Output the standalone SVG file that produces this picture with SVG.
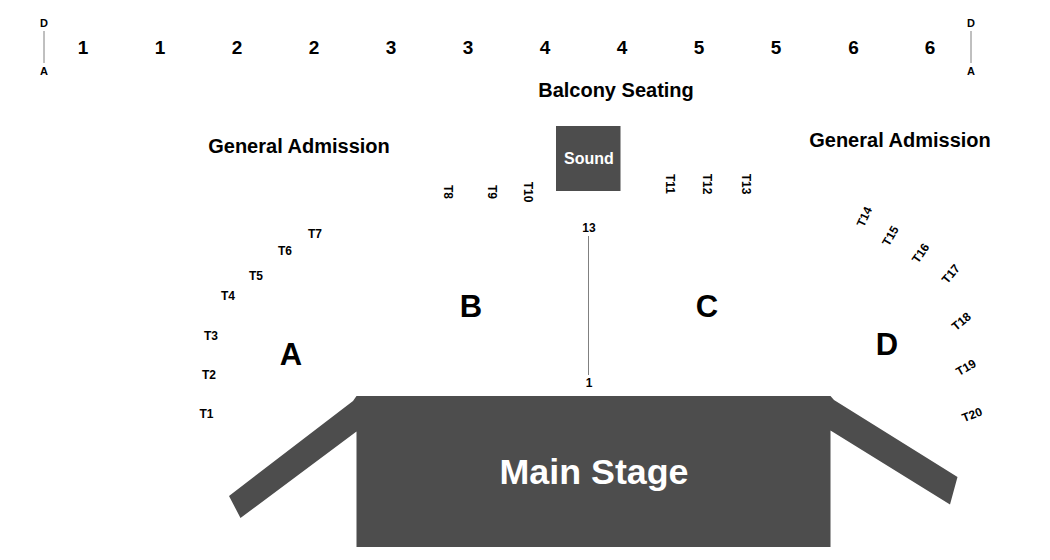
<svg xmlns="http://www.w3.org/2000/svg" width="1050" height="560" viewBox="0 0 1050 560">
<style>
text{font-family:"Liberation Sans",Arial,sans-serif;font-weight:700;fill:#000;text-anchor:middle}
.s{font-size:12px}
.r{font-size:11px}
.n{font-size:19px}
.h{font-size:20px}
.z{font-size:31px}
.d{fill:#4d4d4d}
.l{stroke:#808080;stroke-width:1;fill:none}
</style>
<rect width="1050" height="560" fill="#fff"/>
<g id="connectors">
<line class="l" x1="44" y1="31" x2="44" y2="63"/>
<line class="l" x1="971" y1="31" x2="971" y2="63"/>
<line class="l" x1="588.500" y1="236" x2="588.500" y2="375"/>
</g>
<g id="row-top">
<text class="r" x="44" y="27">D</text><text class="r" x="44" y="75">A</text>
<text class="r" x="971" y="27">D</text><text class="r" x="971" y="75">A</text>
<text class="n" x="83" y="53.500">1</text><text class="n" x="160" y="53.500">1</text>
<text class="n" x="237" y="53.500">2</text><text class="n" x="314" y="53.500">2</text>
<text class="n" x="391" y="53.500">3</text><text class="n" x="468" y="53.500">3</text>
<text class="n" x="545" y="53.500">4</text><text class="n" x="622" y="53.500">4</text>
<text class="n" x="699" y="53.500">5</text><text class="n" x="776" y="53.500">5</text>
<text class="n" x="853.500" y="53.500">6</text><text class="n" x="930" y="53.500">6</text>
</g>
<g id="balcony"><text class="h" x="616" y="97">Balcony Seating</text></g>
<g id="ga-left"><text class="h" x="299" y="152.500">General Admission</text></g>
<g id="ga-right"><text class="h" x="900" y="147">General Admission</text></g>
<g id="sound">
<rect class="d" x="556" y="126" width="64.500" height="65"/>
<text x="589" y="164" style="font-size:16px;fill:#fff">Sound</text>
</g>
<g id="stage">
<path class="d" d="M356.500 396H830.500L834 400L957.500 477L950 504.500L830.500 430.500V547H356.500V431.500L240.500 518L229 496L353 401Z"/>
<text x="594" y="484" style="font-size:35.800px;fill:#fff">Main Stage</text>
</g>
<g id="sections">
<text class="z" x="291" y="365">A</text>
<text class="z" x="471" y="316.500">B</text>
<text class="z" x="707" y="316.500">C</text>
<text class="z" x="887" y="355">D</text>
</g>
<g id="marks">
<text class="s" x="589" y="232">13</text>
<text class="s" x="589" y="387">1</text>
</g>
<g id="tables-left">
<text class="s" x="206.500" y="418">T1</text>
<text class="s" x="209" y="379">T2</text>
<text class="s" x="211" y="339.500">T3</text>
<text class="s" x="228" y="300">T4</text>
<text class="s" x="256" y="279.500">T5</text>
<text class="s" x="285" y="255">T6</text>
<text class="s" x="315" y="237.500">T7</text>
</g>
<g id="tables-mid">
<text class="s" transform="translate(443.500 192) rotate(90)">T8</text>
<text class="s" transform="translate(487.500 192) rotate(90)">T9</text>
<text class="s" transform="translate(524 192) rotate(90)">T10</text>
<text class="s" transform="translate(666 184) rotate(90)">T11</text>
<text class="s" transform="translate(703 184) rotate(90)">T12</text>
<text class="s" transform="translate(742 184) rotate(90)">T13</text>
</g>
<g id="tables-right">
<text class="s" transform="translate(868 218.500) rotate(-65)">T14</text>
<text class="s" transform="translate(894 238) rotate(-60)">T15</text>
<text class="s" transform="translate(924 255.500) rotate(-55)">T16</text>
<text class="s" transform="translate(954 276.500) rotate(-50)">T17</text>
<text class="s" transform="translate(964 324.500) rotate(-40)">T18</text>
<text class="s" transform="translate(968 371) rotate(-30)">T19</text>
<text class="s" transform="translate(973.500 418.500) rotate(-22)">T20</text>
</g>
</svg>
